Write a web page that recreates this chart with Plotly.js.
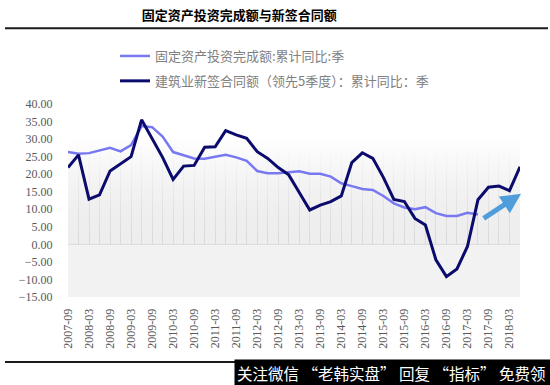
<!DOCTYPE html>
<html>
<head>
<meta charset="utf-8">
<script src="https://cdn.plot.ly/plotly-3.0.1.min.js"></script>
<style>html,body{margin:0;padding:0;background:#fff;}#chart{width:550px;height:385px;}</style>
</head>
<body>
<div id="chart"></div>
<script>
// Quarterly categories (contract series is shifted 5 quarters ahead)
const categories = [
  "2007-09","2007-12","2008-03","2008-06","2008-09","2008-12","2009-03","2009-06","2009-09","2009-12",
  "2010-03","2010-06","2010-09","2010-12","2011-03","2011-06","2011-09","2011-12","2012-03","2012-06",
  "2012-09","2012-12","2013-03","2013-06","2013-09","2013-12","2014-03","2014-06","2014-09","2014-12",
  "2015-03","2015-06","2015-09","2015-12","2016-03","2016-06","2016-09","2016-12","2017-03","2017-06",
  "2017-09","2017-12","2018-03","2018-06"
];
const tickLabels = [
  "2007-09","2008-03","2008-09","2009-03","2009-09","2010-03","2010-09","2011-03","2011-09","2012-03",
  "2012-09","2013-03","2013-09","2014-03","2014-09","2015-03","2015-09","2016-03","2016-09","2017-03",
  "2017-09","2018-03"
];
const seriesNames = ["固定资产投资完成额:累计同比:季", "建筑业新签合同额（领先5季度）：累计同比：季"];
// 固定资产投资完成额:累计同比 (%)
const faiValues = [
  26.3,25.8,26.0,26.7,27.5,26.5,28.3,33.7,33.4,30.7,
  26.3,25.4,24.5,24.4,25.0,25.5,24.8,23.8,20.9,20.3,
  20.3,20.5,20.8,20.1,20.1,19.3,17.4,16.6,15.8,15.5,
  13.8,11.7,10.5,10.0,10.6,8.9,8.1,8.1,9.0,8.5
];
// 建筑业新签合同额（领先5季度）:累计同比 (%)
const contractValues = [
  21.9,25.5,12.9,14.1,20.9,22.9,25.0,35.5,30.3,24.8,
  18.5,22.3,22.5,27.7,27.8,32.4,31.2,30.2,26.4,24.5,
  21.9,19.8,14.8,9.8,11.2,12.2,13.8,23.3,26.1,24.5,
  19.1,12.8,12.2,7.4,5.5,-4.4,-9.2,-7.0,-0.6,12.7,
  16.3,16.6,15.3,22.1
];

const yMin = -15, yMax = 40, fadeTop = 30;
const first = categories[0], last = categories[categories.length - 1];
const edges = [first, last];

const bg = (y, extra) => Object.assign({
  x: edges, y: [y, y], type: "scatter", mode: "lines",
  line: {width: 0}, hoverinfo: "skip", showlegend: false
}, extra || {});

const traces = [
  bg(yMin),
  bg(0, {fill: "tonexty", fillcolor: "#f2f2f2", line: {width: 1, color: "#d9d9d9"}}),
  bg(fadeTop, {fill: "tonexty", fillcolor: "rgba(240,240,240,0.5)",
    fillgradient: {type: "vertical", start: 0, stop: fadeTop,
      colorscale: [[0, "rgba(220,220,220,0.5)"], [1, "rgba(255,255,255,1)"]]}}),
  bg(yMax, {fill: "tonexty", fillcolor: "#ffffff"}),
  {
    x: categories.slice(0, faiValues.length), y: faiValues, type: "scatter", mode: "lines",
    name: seriesNames[0], legendgroup: "a",
    line: {color: "#7878f2", width: 2.5}
  },
  {
    x: categories, y: contractValues, type: "scatter", mode: "lines",
    name: seriesNames[1], legendgroup: "b",
    line: {color: "#0b0b6e", width: 3}
  }
];

const tickText = categories.map(c => tickLabels.includes(c) ? c : "");

const pxX = px => (px - 68) / 452;
const pxY = py => (297 - py) / 193;

const layout = {
  width: 550, height: 385,
  margin: {l: 68, r: 30, t: 104, b: 88},
  paper_bgcolor: "#ffffff", plot_bgcolor: "#ffffff",
  font: {family: "Liberation Serif, serif", color: "#595959", size: 12},
  title: {
    text: "固定资产投资完成额与新签合同额",
    font: {family: "Noto Sans CJK SC", size: 13, color: "#000000", weight: "bold"},
    x: 0.435, xref: "container", xanchor: "center",
    y: 1 - 15 / 385, yref: "container", yanchor: "middle"
  },
  showlegend: true,
  legend: {
    x: pxX(115), xanchor: "left", y: pxY(41), yanchor: "top",
    traceorder: "grouped", tracegroupgap: 5,
    font: {family: "Noto Sans CJK SC", size: 13, color: "#808080"},
    bgcolor: "rgba(0,0,0,0)", borderwidth: 0
  },
  xaxis: {
    type: "category", categoryorder: "array", categoryarray: categories,
    range: [0, categories.length - 1],
    tickmode: "array", tickvals: categories, ticktext: tickText,
    tickangle: -90, ticks: "outside", ticklen: 6, tickcolor: "rgba(0,0,0,0)",
    showgrid: true, gridcolor: "#d6d6d6", gridwidth: 1,
    showline: false, zeroline: false,
    tickfont: {family: "Liberation Serif", size: 12, color: "#595959"},
    fixedrange: true
  },
  yaxis: {
    range: [yMin, yMax], dtick: 5, tick0: 0, tickformat: ".2f",
    showgrid: false, zeroline: false, showline: false,
    ticks: "outside", ticklen: 12, tickcolor: "rgba(0,0,0,0)",
    tickfont: {family: "Liberation Serif", size: 12, color: "#595959"},
    fixedrange: true
  },
  shapes: [
    {type: "line", xref: "paper", yref: "paper", x0: pxX(5), x1: pxX(548), y0: pxY(28.3), y1: pxY(28.3),
     line: {color: "#1a1a1a", width: 2}},
    {type: "line", xref: "paper", yref: "paper", x0: pxX(5), x1: pxX(548), y0: pxY(362), y1: pxY(362),
     line: {color: "#1a1a1a", width: 2}}
  ],
  annotations: [
    {x: 43.1, y: 14.4, xref: "x", yref: "y", ax: 39.4, ay: 7.1, axref: "x", ayref: "y",
     showarrow: true, arrowhead: 2, arrowsize: 0.8, arrowwidth: 5, arrowcolor: "#4f9edb", text: ""},
    {x: pxX(552), y: pxY(387), xref: "paper", yref: "paper", xanchor: "right", yanchor: "bottom",
     showarrow: false, text: "关注微信 “老韩实盘” 回复 “指标” 免费领 ",
     font: {family: "Noto Sans CJK SC", size: 15.5, color: "#ffffff"},
     bgcolor: "#000000", borderpad: 2}
  ]
};

Plotly.newPlot("chart", traces, layout, {displayModeBar: false, staticPlot: true});
</script>
</body>
</html>
